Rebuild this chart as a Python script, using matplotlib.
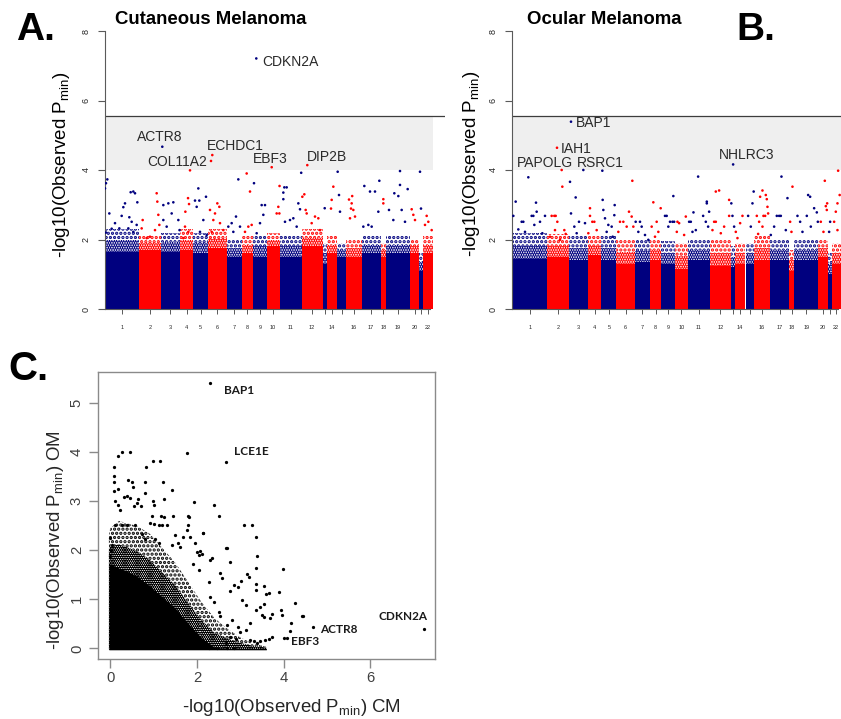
import numpy as np
import matplotlib
matplotlib.use("Agg")
import matplotlib.pyplot as plt

plt.rcParams['font.family'] = ['Liberation Sans', 'DejaVu Sans']
plt.rcParams['mathtext.fontset'] = 'custom'
plt.rcParams['mathtext.rm'] = 'Liberation Sans'
plt.rcParams['mathtext.it'] = 'Liberation Sans:italic'
plt.rcParams['mathtext.bf'] = 'Liberation Sans:bold'
plt.rcParams['hatch.linewidth'] = 1.6

# ---------------- data ----------------
chrom_names = [str(i) for i in range(1, 23)]
chrom_tick_labels = ['1', '2', '3', '4', '5', '6', '7', '8', '9', '10', '11', '12', '',
                     '14', '', '16', '17', '18', '19', '20', '', '22']
genes_per_chrom = [2070, 1300, 1140, 800, 900, 1100, 900, 700, 800, 800, 1300,
                   1260, 240, 640, 520, 940, 1160, 300, 1440, 560, 240, 560]

suggestive_line = 4.0
significance_line = 5.56

# dense (solid) band top and upper edge of the speckled fringe, per chromosome
cm_dense_top = [1.65, 1.70, 1.65, 1.70, 1.60, 1.75, 1.50, 1.60, 1.50, 1.80, 1.50,
                1.80, 1.30, 1.60, 1.50, 1.50, 1.60, 1.50, 1.60, 1.60, 1.10, 1.60]
cm_fringe_top = [2.30, 2.10, 2.20, 2.30, 2.20, 2.30, 2.00, 2.10, 2.10, 2.20, 2.10,
                 2.30, 1.90, 2.10, 1.90, 2.00, 2.10, 1.90, 2.10, 2.00, 1.60, 2.10]
om_dense_top = [1.45, 1.50, 1.40, 1.55, 1.40, 1.30, 1.35, 1.40, 1.30, 1.15, 1.40,
                1.25, 1.20, 1.30, 1.30, 1.40, 1.40, 1.10, 1.40, 1.50, 1.00, 1.30]
om_fringe_top = [2.20, 2.15, 2.10, 2.10, 2.10, 2.00, 2.00, 2.00, 1.95, 1.90, 2.00,
                 2.00, 1.80, 1.90, 1.90, 2.10, 2.00, 1.70, 2.00, 2.00, 1.60, 1.90]

# sparse genes above the dense band: genome gene index, -log10(P)
cm_gene_index = [18, 158, 78, 278, 78, 618, 418, 1018, 1218, 1118, 1558, 1718, 1818, 1958,
                 1478, 1618, 878, 1718, 1418, 1918,
                 3118, 3158, 3218, 2278, 2218, 2718, 3018, 3278, 2518,
                 3518, 3818, 4118, 3518, 4018, 4418, 3718, 4490,
                 5118, 5000, 5060, 4840, 4818, 5018, 4718,
                 5618, 5418, 5678, 6078, 5518, 5918, 5718, 6118,
                 6758, 6878, 6318, 6618, 6918, 6518, 7118, 6418,
                 8018, 7878, 7618, 7418, 8118, 7718,
                 8518, 8718, 8618, 8818, 8418,
                 8958, 9418, 9618, 9518, 9318, 9118,
                 10490, 10418, 10318, 10480,
                 10778, 10918, 10718, 10718, 10818, 11118, 11318, 11618, 11518, 11790, 11718,
                 11978, 11858, 12058, 12118, 12618, 12418, 12818, 12918,
                 13200,
                 13718, 13618, 13578,
                 13978, 14058, 14118,
                 14818, 14918, 14778, 14658, 14718, 15018, 14850,
                 15578, 15918, 16218, 16478, 16418, 15818, 16018, 15518,
                 16718, 16718,
                 17378, 17718, 17718, 17618, 18178, 17058, 17818, 18018, 17318,
                 18418, 18618, 18518,
                 18918, 18978,
                 19318, 19418, 19618, 19218]
cm_logp = [3.47, 3.73, 3.62, 2.75, 2.20, 2.47, 2.31, 2.68, 3.04, 2.93, 3.36, 3.38, 3.33, 3.07,
           2.64, 2.51, 2.32, 2.22, 2.32, 2.42,
           3.33, 3.09, 2.71, 2.56, 2.32, 2.08, 2.27, 2.42, 2.04,
           2.99, 3.04, 3.07, 2.56, 2.75, 2.56, 2.37, 2.27,
           3.99, 3.19, 3.02, 2.80, 2.37, 2.22, 2.04,
           3.47, 3.12, 3.12, 3.23, 2.94, 2.56, 2.22, 2.13,
           3.04, 2.94, 2.85, 2.75, 2.47, 2.56, 2.27, 2.22,
           3.73, 2.66, 2.47, 2.37, 2.37, 2.22,
           3.90, 3.38, 2.37, 2.42, 2.22,
           3.62, 2.99, 2.99, 2.71, 2.47, 2.18,
           3.54, 2.94, 2.75, 2.75,
           3.50, 3.50, 3.35, 3.16, 2.51, 2.56, 2.61, 3.04, 2.37, 3.92, 2.87,
           3.30, 3.23, 2.85, 2.75, 2.66, 2.47, 2.61, 2.27,
           2.90,
           3.52, 3.14, 2.89,
           3.95, 3.28, 2.80,
           3.04, 2.85, 2.89, 3.15, 2.61, 2.66, 3.25,
           3.54, 3.38, 3.38, 3.69, 2.80, 2.42, 2.37, 2.37,
           3.16, 3.04,
           3.33, 3.57, 3.97, 3.25, 3.45, 2.85, 2.85, 2.51, 2.56,
           2.87, 2.56, 2.71,
           3.95, 2.89,
           2.68, 2.51, 2.27, 2.42]

om_gene_index = [920, 160, 1380, 1420, 20, 1120, 1220, 1920, 520, 620, 320, 1620, 720, 1280, 1760,
                 2960, 2480, 2560, 2320, 2660, 2520, 3080, 3160, 2220, 2820,
                 3420, 3760, 3480, 3960, 3680, 4320, 3820,
                 4620, 4760, 4880, 4620, 5020, 4520,
                 5360, 5420, 6080, 5520, 5720, 5920, 5620, 5980, 5380, 6100,
                 7160, 6960, 6420, 6620, 7120, 6820, 6320, 7220,
                 7360, 7620, 7520, 7920, 8120, 7720,
                 8420, 8860, 8620, 8320, 8720, 8520,
                 9620, 9120, 9220, 9420, 9320, 9568, 9668,
                 9868, 9968, 9828, 10368, 10268,
                 10828, 11108, 11628, 11628, 11768, 11408, 10668, 10568, 10968, 11568, 11708, 10768,
                 12168, 12368, 12968, 12068, 12168, 12968, 12668, 11968, 12468,
                 13100, 13168, 13268,
                 13368, 13768, 13628, 13468,
                 14368, 14440, 14108, 14268,
                 14968, 14828, 15168, 15228, 15268, 15308, 15028, 15128, 14628, 14768, 14968, 14708,
                 16108, 15828, 15968, 16068, 16468, 16368, 15668, 15468,
                 16768, 16628, 16708,
                 17708, 17828, 18068, 18228, 17068, 17628, 17228, 17868, 17368, 18290,
                 18708, 18850, 18768, 18828, 18468, 18628,
                 19028, 18968,
                 19508, 19468, 19600, 19368, 19268, 19468]
om_logp = [3.79, 3.09, 3.06, 2.80, 2.68, 2.68, 2.68, 2.68, 2.51, 2.51, 2.29, 2.51, 2.22, 2.42, 2.18,
           3.52, 2.68, 2.68, 2.68, 2.51, 2.27, 2.27, 2.16, 2.08, 1.99,
           3.66, 3.21, 2.75, 2.51, 2.37, 2.47, 2.18,
           2.90, 2.51, 2.51, 2.68, 2.27, 2.18,
           3.98, 2.85, 2.70, 2.61, 2.42, 2.37, 2.22, 2.08, 3.14, 2.99,
           3.69, 2.80, 2.51, 2.51, 2.66, 2.37, 2.22, 2.37,
           2.51, 2.51, 2.22, 2.13, 1.99, 2.37,
           3.07, 2.90, 2.51, 2.37, 2.22, 2.08,
           3.25, 2.68, 2.68, 2.51, 2.37, 2.51, 2.51,
           2.51, 2.47, 2.22, 2.66, 2.13,
           2.78, 3.81, 3.09, 3.04, 2.80, 2.68, 2.51, 2.51, 2.27, 2.51, 2.37, 2.22,
           3.38, 3.41, 3.14, 2.51, 2.51, 2.68, 2.37, 2.27, 2.18,
           3.04, 2.68, 2.37,
           2.22, 2.68, 2.47, 2.04,
           3.04, 3.38, 2.68, 2.37,
           3.41, 3.23, 3.28, 3.16, 2.94, 2.75, 2.68, 2.68, 2.68, 2.51, 2.37, 2.16,
           3.81, 2.68, 2.68, 2.68, 3.19, 2.27, 2.37, 2.13,
           3.52, 2.51, 2.22,
           3.28, 3.23, 2.90, 2.78, 2.68, 2.68, 2.51, 2.37, 2.22, 2.51,
           3.69, 3.04, 2.96, 2.85, 2.51, 2.22,
           2.51, 2.22,
           3.98, 3.04, 3.28, 2.80, 2.51, 2.27]

# named top genes
cm_top_genes = ['CDKN2A', 'ACTR8', 'COL11A2', 'ECHDC1', 'EBF3', 'DIP2B']
cm_top_index = [9096, 3456, 6378, 6456, 10020, 12156]
cm_top_logp = [7.21, 4.67, 4.26, 4.43, 4.08, 4.14]
om_top_genes = ['BAP1', 'IAH1', 'PAPOLG', 'RSRC1', 'NHLRC3']
om_top_index = [3480, 2640, 2920, 4220, 13208]
om_top_logp = [5.39, 4.64, 4.00, 4.00, 4.16]

# panel C: -log10(P) in CM (x) vs OM (y); dense-cloud envelope on a shared CM grid
c_env_cm = [-0.03, 0.00, 0.20, 0.40, 0.60, 0.90, 1.20, 1.50, 1.80, 2.10, 2.40, 2.70, 3.00, 3.30, 3.60]
c_dense_om = [1.72, 1.72, 1.64, 1.57, 1.48, 1.28, 1.05, 0.82, 0.50, 0.22, 0.02, 0.0, 0.0, 0.0, 0.0]
c_fringe_om = [2.30, 2.45, 2.60, 2.55, 2.50, 2.35, 2.05, 1.75, 1.35, 0.95, 0.62, 0.40, 0.22, 0.10, 0.03]

c_cm = [0.45, 0.27, 0.18, 1.76, 0.08, 0.08, 0.08, 0.08, 0.19, 0.41, 0.50, 0.52,
        0.82, 0.98, 1.15, 0.81, 1.21, 1.42, 1.25, 0.81, 0.98, 1.00, 0.12, 0.19, 0.23,
        0.31, 0.39, 0.46, 0.56, 0.62, 0.65, 0.72, 1.94, 2.39, 2.50, 1.79, 1.82, 1.18,
        1.23, 1.44, 0.96, 3.08, 3.26, 3.37, 3.39, 2.68, 2.13, 2.30, 1.79, 1.31, 1.19,
        1.12, 0.12, 0.27, 0.39, 0.58, 0.92, 1.00, 1.77, 1.50, 1.69, 1.85, 1.96, 1.56,
        1.62, 1.42, 2.00, 2.04, 2.12, 1.04, 1.12, 0.73, 0.81,
        3.37, 3.37, 3.37, 3.99, 4.44, 3.73, 3.93, 3.95, 4.16, 3.59, 3.89, 3.16,
        3.19, 3.02, 2.77, 2.69, 2.35, 2.14, 2.54, 2.58, 2.77, 2.85, 3.04, 3.12, 3.35,
        3.46, 3.23, 3.50, 3.54, 3.73, 3.66, 3.58, 3.46, 3.39, 3.23, 3.31, 3.12, 2.94,
        2.99, 2.77, 2.89, 2.66, 2.50, 2.54, 2.31, 2.39, 2.27, 2.04, 1.92, 2.27, 2.46,
        2.69, 2.85, 2.08, 2.69, 2.81, 4.00, 3.54, 3.65, 3.69, 3.54, 2.94,
        0.00, 0.00, 0.02, 0.05, 4.14,
        2.31, 2.68, 7.23, 4.67, 4.08, 4.27, 4.43]
c_om = [4.00, 4.00, 3.93, 3.99, 3.71, 3.52, 3.40, 3.22, 3.26, 3.43, 3.39, 3.30,
        3.70, 3.82, 3.82, 3.39, 3.40, 3.23, 3.05, 3.16, 3.00, 2.92, 3.00, 2.93, 2.82,
        3.09, 3.10, 3.06, 2.90, 2.96, 3.05, 2.90, 2.98, 2.93, 2.70, 2.70, 2.67, 2.70,
        2.68, 2.70, 2.70, 2.52, 2.52, 2.28, 1.88, 2.05, 2.35, 1.81, 2.52, 2.52, 2.52,
        2.52, 2.52, 2.52, 2.52, 2.52, 2.55, 2.54, 2.42, 2.31, 2.28, 2.28, 2.14, 2.14,
        2.07, 2.10, 1.97, 1.90, 1.92, 2.24, 2.14, 2.34, 2.24,
        1.64, 1.32, 1.19, 1.61, 0.66, 0.71, 0.78, 0.68, 0.52, 1.11, 1.14, 1.52,
        1.46, 1.37, 1.77, 2.04, 1.84, 2.35, 1.54, 1.43, 1.18, 1.29, 0.99, 0.88, 0.78,
        0.85, 0.51, 0.68, 0.64, 0.24, 0.20, 0.17, 0.14, 0.10, 0.17, 0.14, 0.37, 0.44,
        0.34, 0.24, 0.20, 0.10, 0.75, 0.65, 1.05, 0.95, 1.36, 1.60, 1.73, 0.00, 0.00,
        0.00, 0.00, 1.98, 0.48, 0.58, 0.22, 1.27, 1.13, 0.61, 0.91, 1.26,
        2.26, 1.89, 2.00, 2.10, 0.35,
        5.42, 3.80, 0.39, 0.43, 0.22, 0.93, 0.66]
c_named = ['BAP1', 'LCE1E', 'CDKN2A', 'ACTR8', 'EBF3']
c_named_cm = [2.31, 2.68, 7.23, 4.67, 4.08]
c_named_om = [5.42, 3.80, 0.39, 0.43, 0.22]

# ---------------- style ----------------
NAVY = '#00007f'
RED = '#ff0000'
AX_GRAY = '#5a5a5a'
TXT = '#262626'

sizes = np.array(genes_per_chrom, dtype=float)
ends = np.cumsum(sizes)
starts = ends - sizes
centers = starts + sizes / 2
total = ends[-1]


def chrom_color(idx):
    k = np.searchsorted(ends, np.asarray(idx), side='right')
    k = np.clip(k, 0, len(sizes) - 1)
    return [NAVY if kk % 2 == 0 else RED for kk in k]


W, H = 841, 719
fig = plt.figure(figsize=(W / 100, H / 100), dpi=100)


def px_axes(left, right, top, bottom):
    return fig.add_axes([left / W, 1 - bottom / H, (right - left) / W, (bottom - top) / H])


def manhattan(ax, xlim, dense, fringe, idx, logp, genes, gidx, glogp, offsets):
    ax.set_xlim(*xlim)
    ax.set_ylim(0, 8)
    ax.fill_between([xlim[0], total], suggestive_line, significance_line,
                    color='#efefef', lw=0, zorder=0)
    ax.axhline(significance_line, color='#3c3c3c', lw=0.9, zorder=1)
    for i in range(len(sizes)):
        col = NAVY if i % 2 == 0 else RED
        mid = (dense[i] + fringe[i]) / 2
        ax.bar(centers[i], dense[i], width=sizes[i], color=col, lw=0, zorder=2)
        ax.bar(centers[i], mid - dense[i], bottom=dense[i], width=sizes[i],
               facecolor='none', edgecolor=col, hatch='.......', lw=0, zorder=2)
        ax.bar(centers[i], fringe[i] - mid, bottom=mid, width=sizes[i],
               facecolor='none', edgecolor=col, hatch='....', lw=0, zorder=2)
    ax.scatter(idx, logp, s=3.5, c=chrom_color(idx), lw=0, zorder=3)
    ax.scatter(gidx, glogp, s=3.5, c=chrom_color(gidx), lw=0, zorder=3)
    for g, x, y in zip(genes, gidx, glogp):
        dx, dy, ha = offsets[g]
        ax.annotate(g, (x, y), xytext=(dx, dy), textcoords='offset points',
                    ha=ha, va='center', fontsize=10, color='#2a2a2a', zorder=4)
    for s in ['top', 'right']:
        ax.spines[s].set_visible(False)
    ax.spines['left'].set_bounds(0, 8)
    ax.spines['bottom'].set_bounds(xlim[0], total - 150)
    for s in ['left', 'bottom']:
        ax.spines[s].set_color(AX_GRAY)
        ax.spines[s].set_linewidth(0.8)
    ax.set_yticks([0, 2, 4, 6, 8])
    ax.set_yticklabels(['0', '2', '4', '6', '8'], rotation=90, va='center')
    ax.tick_params(axis='y', length=4.8, width=0.8, color=AX_GRAY, labelsize=6.5,
                   pad=5.5, labelcolor=TXT)
    ax.set_xticks(centers)
    ax.set_xticklabels(chrom_tick_labels)
    ax.tick_params(axis='x', length=3.4, width=0.7, color=AX_GRAY, labelsize=4,
                   pad=8, labelcolor=TXT)


ylab = r'-log10(Observed P$_{\mathrm{min}}$)'

# Panel A
axA = px_axes(104.7, 445, 31, 309)
offA = {'CDKN2A': (4.3, -2.4, 'left'), 'ACTR8': (-2.2, 7.2, 'center'),
        'COL11A2': (-2.9, -0.9, 'right'), 'ECHDC1': (16.8, 6.7, 'center'),
        'EBF3': (-1.2, 6.0, 'center'), 'DIP2B': (-0.4, 5.5, 'left')}
manhattan(axA, (0, 20418), cm_dense_top, cm_fringe_top, cm_gene_index, cm_logp,
          cm_top_genes, cm_top_index, cm_top_logp, offA)

# Panel B
axB = px_axes(511.7, 841, 31, 309)
offB = {'BAP1': (3.4, -1.2, 'left'), 'IAH1': (2.7, -0.9, 'left'),
        'PAPOLG': (-12.2, 4.8, 'center'), 'RSRC1': (12.4, 4.8, 'center'),
        'NHLRC3': (9.6, 6.7, 'center')}
manhattan(axB, (-78, 19680), om_dense_top, om_fringe_top, om_gene_index, om_logp,
          om_top_genes, om_top_index, om_top_logp, offB)

fig.text(61 / W, 1 - 164.5 / H, ylab, rotation=90, ha='center', va='center',
         fontsize=13.5, color='black')
fig.text(471.7 / W, 1 - 164 / H, ylab, rotation=90, ha='center', va='center',
         fontsize=13.5, color='black')
fig.text(211 / W, 1 - 24 / H, 'Cutaneous Melanoma', ha='center', va='baseline',
         fontsize=13.4, fontweight='bold')
fig.text(604 / W, 1 - 23.5 / H, 'Ocular Melanoma', ha='center', va='baseline',
         fontsize=13.4, fontweight='bold')
fig.text(16 / W, 1 - 40 / H, 'A.', ha='left', va='baseline', fontsize=28, fontweight='bold')
fig.text(736 / W, 1 - 40 / H, 'B.', ha='left', va='baseline', fontsize=28, fontweight='bold')
fig.text(8 / W, 1 - 380 / H, 'C.', ha='left', va='baseline', fontsize=29, fontweight='bold')

# Panel C
axC = px_axes(97.7, 435, 372.3, 659.3)
axC.set_xlim(-0.288, 7.488)
axC.set_ylim(-0.224, 5.633)
c_dense = np.array(c_dense_om)
c_fringe = np.array(c_fringe_om)
c_mid = (c_dense + c_fringe) / 2
axC.fill_between(c_env_cm, c_mid, c_fringe, facecolor='none', edgecolor='black',
                 hatch='....', lw=0, zorder=1)
axC.fill_between(c_env_cm, -0.03, c_mid, facecolor='none', edgecolor='black',
                 hatch='.........', lw=0, zorder=1)
axC.fill_between(c_env_cm, -0.03, c_dense, color='black', lw=0, zorder=2)
axC.scatter(c_cm, c_om, s=5.5, color='black', lw=0, zorder=3)
offC = {'BAP1': (9.6, -5.3, 'left'), 'LCE1E': (5.8, 7.4, 'left'),
        'CDKN2A': (-15.3, 9.0, 'center'), 'ACTR8': (5.1, -1.5, 'left'),
        'EBF3': (2.9, -3.0, 'left')}
for g, x, y in zip(c_named, c_named_cm, c_named_om):
    dx, dy, ha = offC[g]
    axC.annotate(g, (x, y), xytext=(dx, dy), textcoords='offset points', ha=ha,
                 va='center', fontsize=8.5, fontweight='bold', color='#1a1a1a',
                 family=['Lato', 'DejaVu Sans'])
for s in axC.spines.values():
    s.set_color('#8a8a8a')
    s.set_linewidth(1.0)
axC.set_xticks([0, 2, 4, 6])
axC.set_yticks([0, 1, 2, 3, 4, 5])
axC.set_yticklabels(['0', '1', '2', '3', '4', '5'], rotation=90, va='center')
axC.tick_params(axis='both', length=6.5, width=1.0, color='#8a8a8a', labelsize=10.7,
                labelcolor='#404040')
axC.tick_params(axis='x', pad=2.2)
axC.tick_params(axis='y', pad=3.4)
fig.text(291.7 / W, 1 - 708 / H, r'-log10(Observed P$_{\mathrm{min}}$) CM', ha='center',
         va='center', fontsize=13.4, color='#262626')
fig.text(56 / W, 1 - 540 / H, r'-log10(Observed P$_{\mathrm{min}}$) OM', rotation=90,
         ha='center', va='center', fontsize=13.4, color='#262626')

fig.savefig('out.png', dpi=100)
